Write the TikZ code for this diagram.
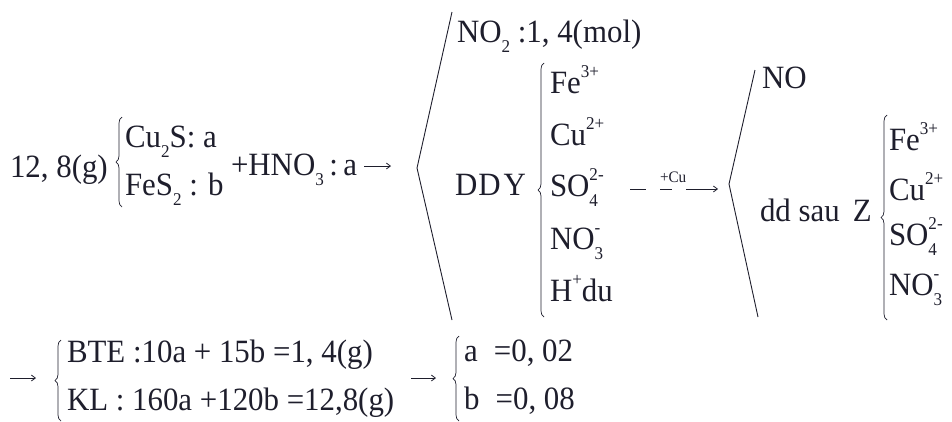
\documentclass[tikz,border=0pt]{standalone}
\usepackage{fontspec}
\setmainfont{Liberation Serif}[FakeStretch=0.95]
\usetikzlibrary{decorations.pathreplacing,arrows.meta}
\definecolor{ink}{HTML}{1E1E2C}
\newcommand{\lo}[1]{\raisebox{-0.32em}{\fontsize{18}{18}\selectfont #1}}
\newcommand{\hi}[1]{\raisebox{0.47em}{\fontsize{18}{18}\selectfont #1}}
\newcommand{\both}[2]{\mbox{\rlap{\hi{#1}}\lo{#2}}}
\begin{document}
\begin{tikzpicture}[x=1pt,y=-1pt,
  txt/.style={anchor=base west,inner sep=0pt,outer sep=0pt,font=\fontsize{32.5}{38}\selectfont,text=ink},
  small/.style={anchor=base west,inner sep=0pt,outer sep=0pt,font=\fontsize{16}{16}\selectfont,text=ink},
  brc/.style={draw=ink,line width=0.7pt,decorate,decoration={brace,amplitude=6pt}},
  ang/.style={draw=ink,line width=0.9pt},
  arr/.style={draw=ink,line width=0.8pt,-{Straight Barb[length=4pt,width=6pt]}}]
\useasboundingbox (0,0) rectangle (952,421);
% row 1
\node[txt] (mass) at (10,177) {12, 8(g)};
\draw[brc] (122,207) -- (122,117);
\node[txt] (cus) at (125,147) {Cu\lo{2}S: a};
\node[txt] (fes) at (125,195) {FeS\lo{2} : b};
\node[txt] (hno) at (231,175) {+HNO\lo{3}\,:\,a};
\coordinate (a1s) at (364,166);
\coordinate (a1e) at (391,166);
\draw[arr] (a1s) -- (a1e);
\coordinate (t1) at (452,12);
\coordinate (v1) at (417,168);
\coordinate (b1) at (452,320);
\draw[ang] (t1) -- (v1) -- (b1);
\node[txt] (no2) at (457,42) {NO\lo{2} :1, 4(mol)};
\node[txt] (ddy) at (455,195) {D\kern1ptD\kern3ptY};
\draw[brc] (544,317) -- (544,63);
\node[txt] (fe1) at (550,93) {Fe\hi{3+}};
\node[txt] (cu1) at (550,145) {Cu\hi{2+}};
\node[txt] (so1) at (550,196) {SO\both{2-}{4}};
\node[txt] (no31) at (550,249) {NO\both{-}{3}};
\node[txt] (h1) at (550,301) {H\hi{+}du};
% +Cu arrow
\coordinate (d1s) at (630,189);
\coordinate (d1e) at (646,189);
\coordinate (d2s) at (660,189);
\coordinate (d2e) at (672,189);
\coordinate (a2s) at (686,189);
\coordinate (a2e) at (718,189);
\draw[ang,line width=0.8pt] (d1s) -- (d1e);
\draw[ang,line width=0.8pt] (d2s) -- (d2e);
\draw[arr] (a2s) -- (a2e);
\node[small] (cu) at (660,182) {+Cu};
% second group
\coordinate (t2) at (755,70);
\coordinate (v2) at (729,184);
\coordinate (b2) at (758,317);
\draw[ang] (t2) -- (v2) -- (b2);
\node[txt] (no) at (762,88) {NO};
\node[txt] (ddz) at (760,221) {dd sau\, Z};
\draw[brc] (887,320) -- (887,115);
\node[txt] (fe2) at (889,150) {Fe\hi{3+}};
\node[txt] (cu2) at (889,200) {Cu\hi{2+}};
\node[txt] (so2) at (889,245) {SO\both{2-}{4}};
\node[txt] (no32) at (889,295) {NO\both{-}{3}};
% bottom row
\coordinate (a3s) at (10,378);
\coordinate (a3e) at (36,378);
\draw[arr] (a3s) -- (a3e);
\draw[brc] (61,421) -- (61,340);
\node[txt] (bte) at (67,362) {BTE :10a + 15b =1, 4(g)};
\node[txt] (kl) at (67,410) {KL : 160a +120b =12,8(g)};
\coordinate (a4s) at (411,378);
\coordinate (a4e) at (436,378);
\draw[arr] (a4s) -- (a4e);
\draw[brc] (459,421) -- (459,336);
\node[txt] (ra) at (464,361) {a\enspace=0, 02};
\node[txt] (rb) at (464,409) {b\enspace=0, 08};
\end{tikzpicture}
\end{document}
